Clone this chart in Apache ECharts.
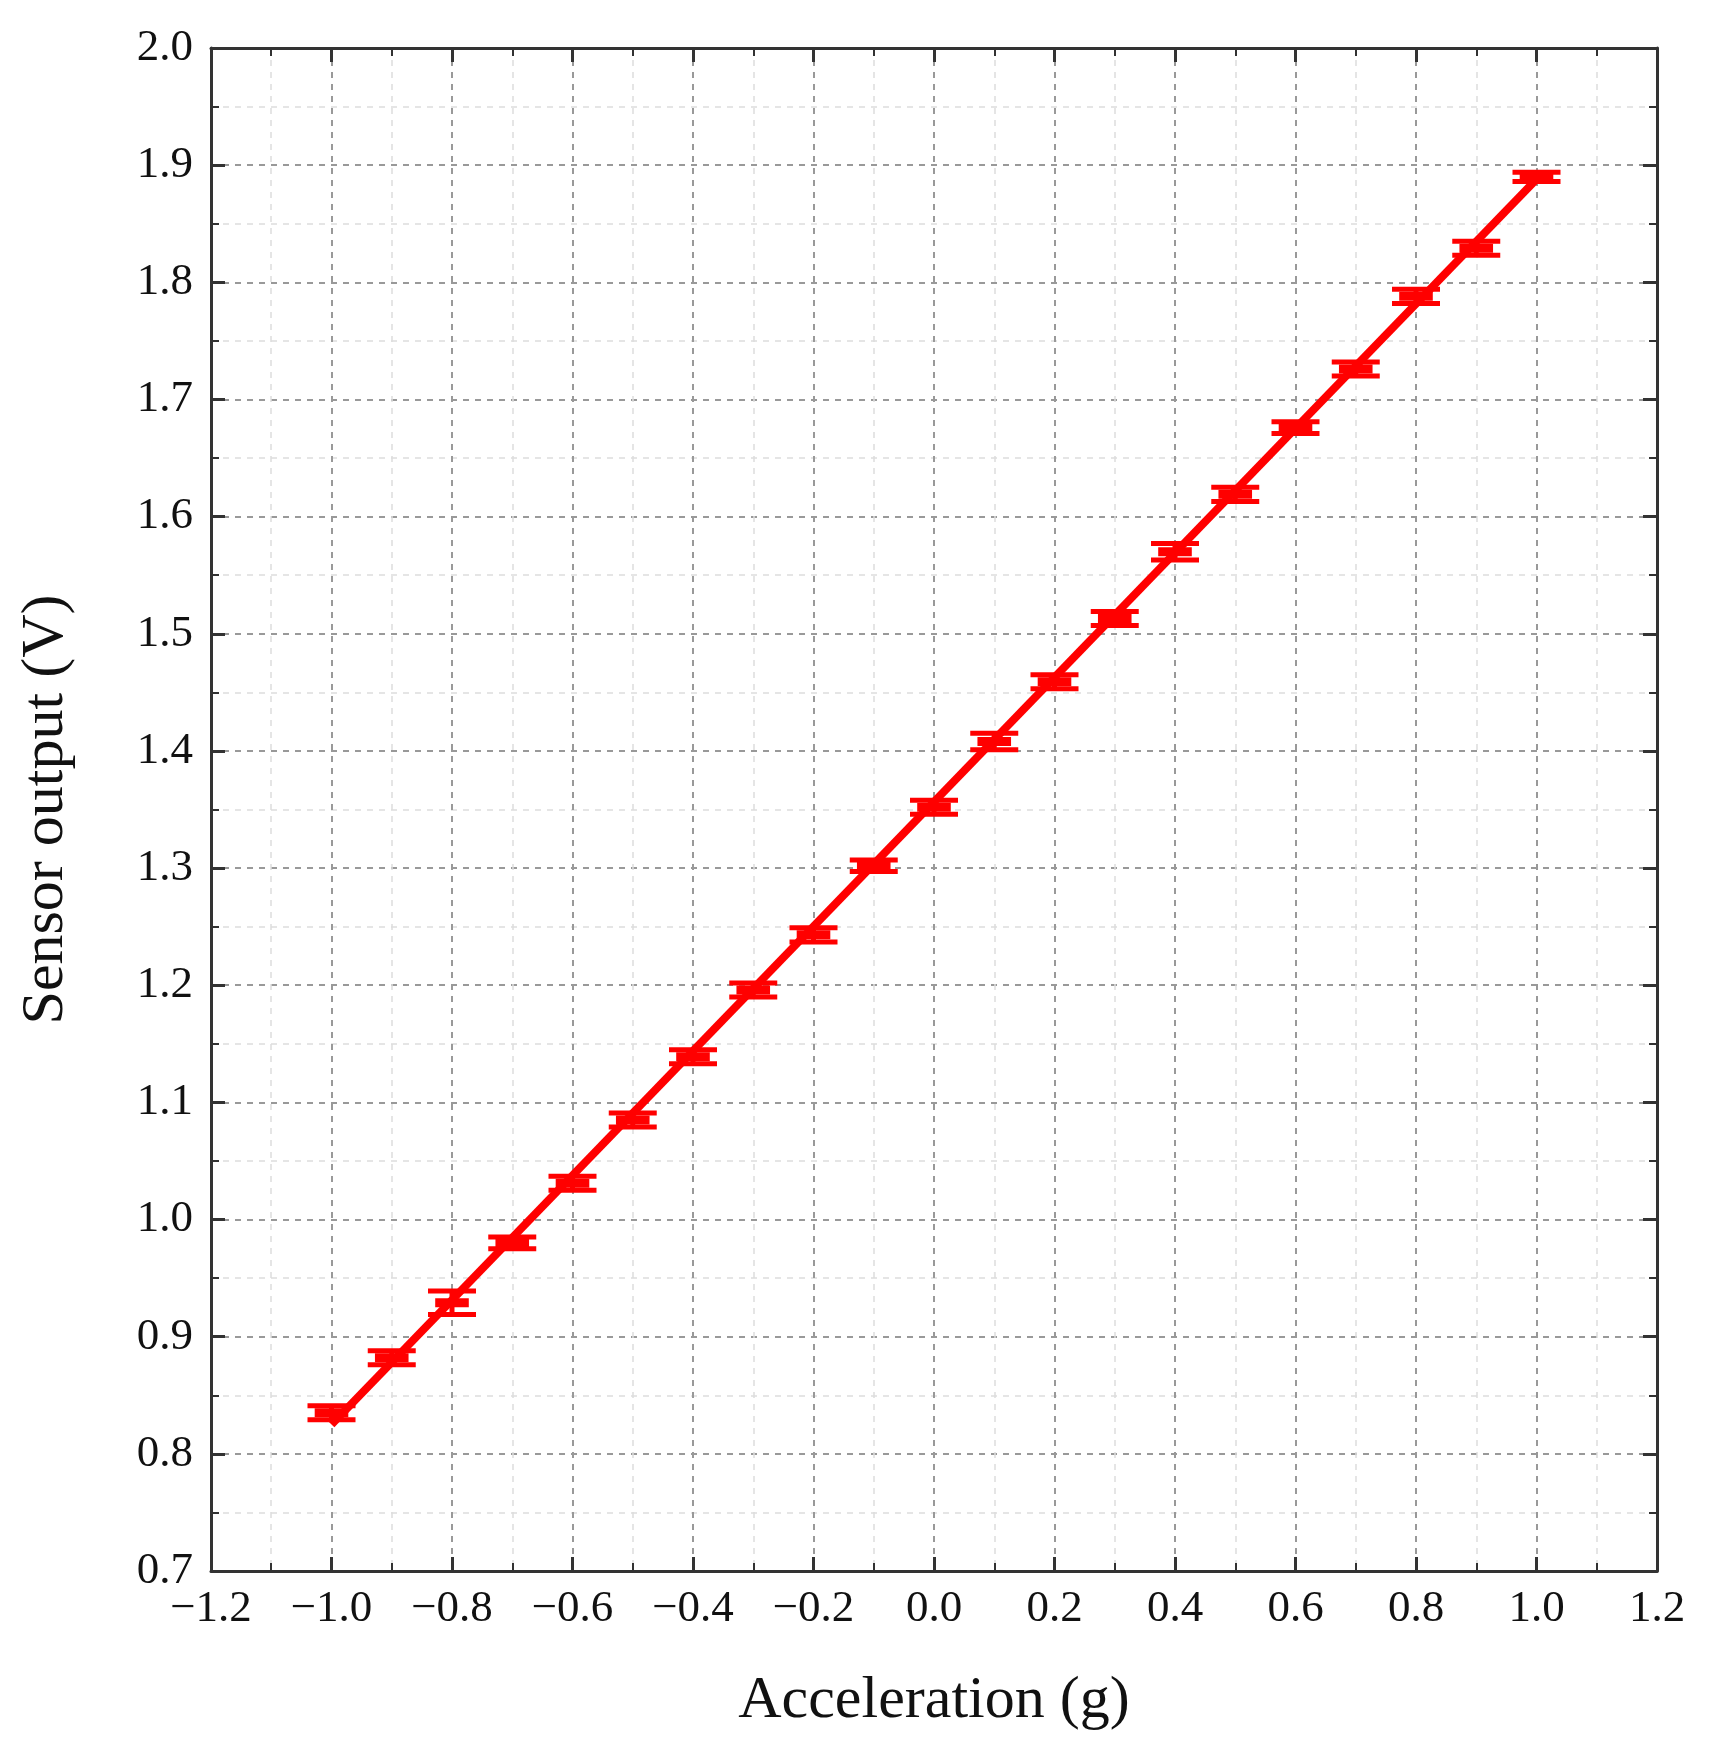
<!DOCTYPE html>
<html><head><meta charset="utf-8">
<script src="https://cdn.jsdelivr.net/npm/echarts@6/dist/echarts.min.js"></script>
<style>html,body{margin:0;padding:0;background:#fff}#c{width:1717px;height:1764px}</style>
</head><body><div id="c"></div>
<script>
const accel = [-1.0,-0.9,-0.8,-0.7,-0.6,-0.5,-0.4,-0.3,-0.2,-0.1,0.0,0.1,0.2,0.3,0.4,0.5,0.6,0.7,0.8,0.9,1.0];
const output = [0.835,0.882,0.929,0.980,1.031,1.085,1.139,1.196,1.243,1.302,1.352,1.408,1.459,1.513,1.570,1.619,1.676,1.726,1.788,1.829,1.890];
const errors = [0.006,0.006,0.010,0.005,0.006,0.006,0.006,0.006,0.006,0.005,0.006,0.007,0.006,0.006,0.007,0.006,0.005,0.006,0.006,0.006,0.004];
const fitX = [-1.0, 1.0];
const fitY = [0.825, 1.888];

const font = 'Liberation Serif';
const red = '#ff0000';
const axisCommon = {
  axisLine:{show:true,onZero:false,lineStyle:{color:'#333',width:3}},
  axisTick:{show:true,inside:true,length:14,lineStyle:{color:'#333',width:3}},
  minorTick:{show:true,splitNumber:2,length:8,lineStyle:{color:'#333',width:2}},
};
const chart = echarts.init(document.getElementById('c'));
chart.setOption({
  animation:false,
  backgroundColor:'#fff',
  grid:{left:211,right:60,top:48,bottom:193,containLabel:false},
  xAxis:[{type:'value',min:-1.2,max:1.2,interval:0.2,...axisCommon,
    name:'Acceleration (g)',nameLocation:'middle',nameGap:100,
    nameTextStyle:{fontFamily:font,fontSize:60,color:'#111'},
    axisLabel:{fontFamily:font,fontSize:45,color:'#111',margin:16,formatter:v=>(v<0?'\u2212':'')+Math.abs(v).toFixed(1)},
    splitLine:{show:true,lineStyle:{color:'#999',type:[6,6],width:2}},
    minorSplitLine:{show:true,lineStyle:{color:'#ddd',type:[6,6],width:1.5}}},
   {type:'value',position:'top',min:-1.2,max:1.2,interval:0.2,...axisCommon,axisLabel:{show:false},splitLine:{show:false}}],
  yAxis:[{type:'value',min:0.7,max:2.0,interval:0.1,...axisCommon,
    name:'Sensor output (V)',nameLocation:'middle',nameGap:135,
    nameTextStyle:{fontFamily:font,fontSize:60,color:'#111'},
    axisLabel:{fontFamily:font,fontSize:45,color:'#111',margin:18,formatter:v=>v.toFixed(1)},
    splitLine:{show:true,lineStyle:{color:'#999',type:[6,6],width:2}},
    minorSplitLine:{show:true,lineStyle:{color:'#ddd',type:[6,6],width:1.5}}},
   {type:'value',position:'right',min:0.7,max:2.0,interval:0.1,...axisCommon,axisLabel:{show:false},splitLine:{show:false}}],
  series:[
    {type:'line',data:fitX.map((x,i)=>[x,fitY[i]]),symbol:'none',lineStyle:{color:red,width:8},z:3},
    {type:'custom',z:4,data:accel.map((x,i)=>[x,output[i],errors[i]]),
     renderItem:(p,api)=>{
       const x=api.value(0),y=api.value(1),e=api.value(2);
       const c=api.coord([x,y]),hi=api.coord([x,y+e]),lo=api.coord([x,y-e]);
       const w=24,st={stroke:red,lineWidth:5};
       return {type:'group',children:[
         {type:'line',shape:{x1:c[0],y1:hi[1],x2:c[0],y2:lo[1]},style:st},
         {type:'line',shape:{x1:c[0]-w,y1:hi[1],x2:c[0]+w,y2:hi[1]},style:st},
         {type:'line',shape:{x1:c[0]-w,y1:lo[1],x2:c[0]+w,y2:lo[1]},style:st},
         {type:'line',shape:{x1:c[0]-w*0.7,y1:c[1],x2:c[0]+w*0.7,y2:c[1]},style:{stroke:red,lineWidth:9}}
       ]};
     }}
  ]
});
</script></body></html>
